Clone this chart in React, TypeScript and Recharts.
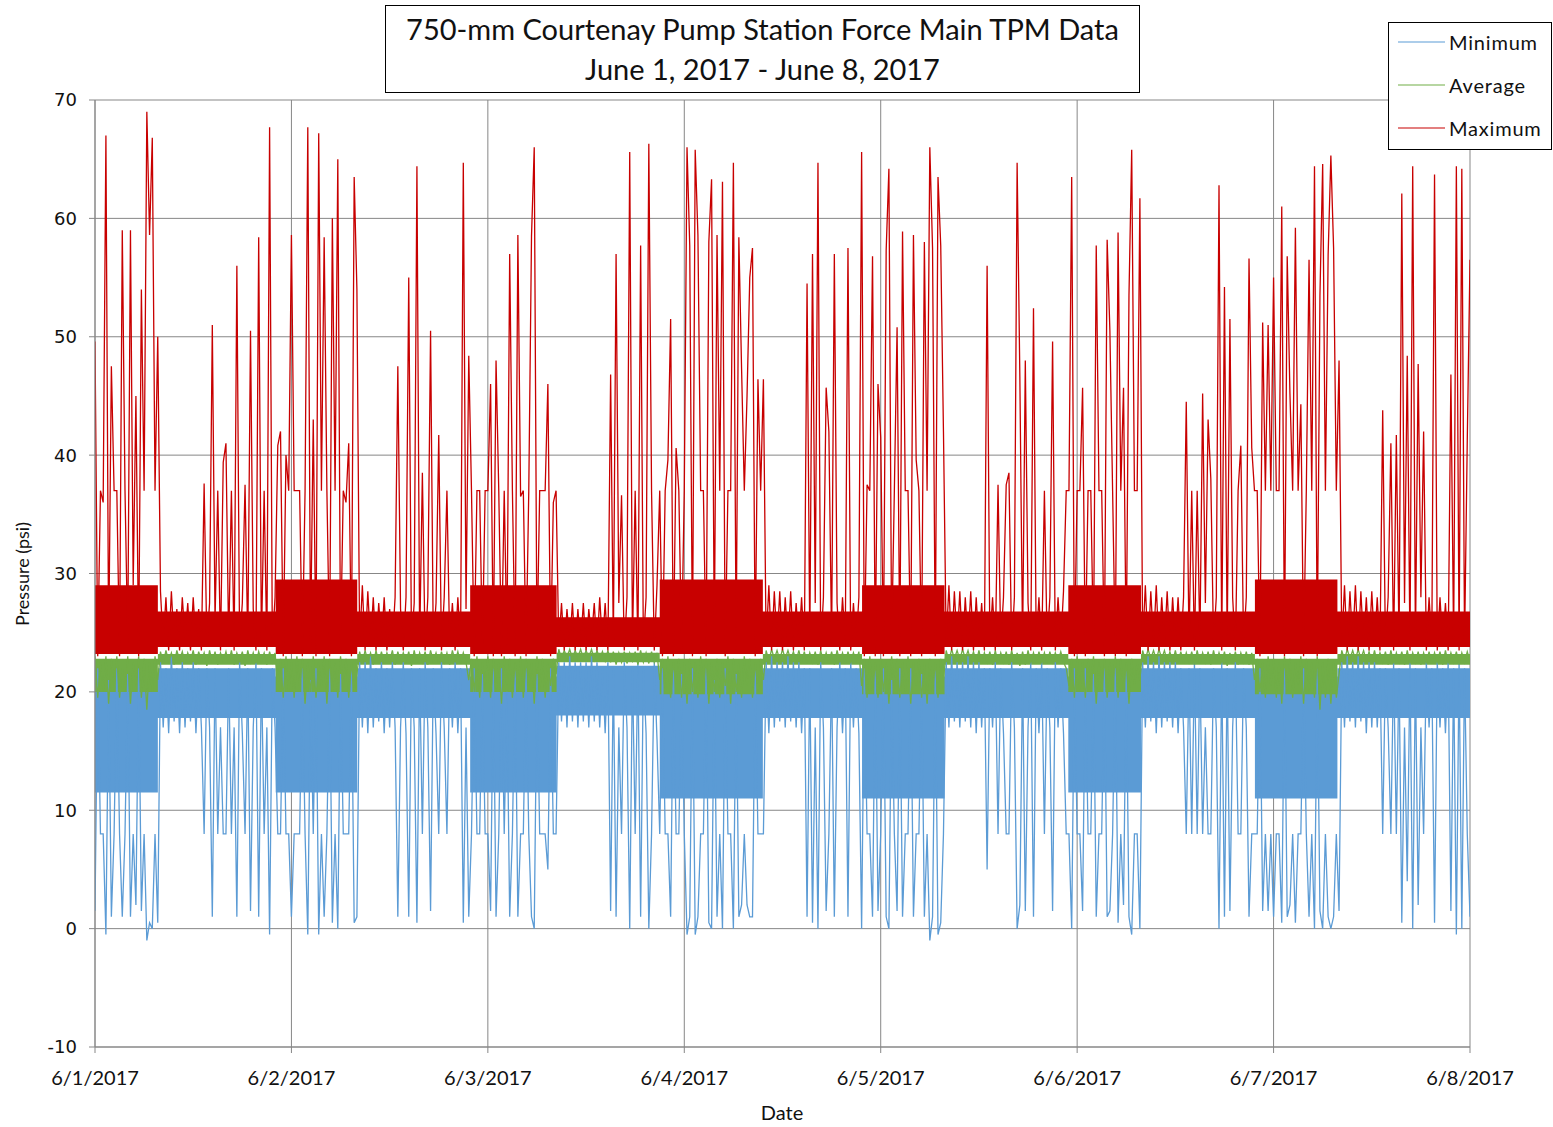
import React from 'react';
import { ComposedChart, Line, Area, XAxis, YAxis, CartesianGrid } from 'recharts';

// Sampling: one reading every 20 minutes (72 per day), June 1 00:00 -> June 8 00:00
const SAMPLES_PER_DAY = 72;
const dayLabels = ['6/1/2017', '6/2/2017', '6/3/2017', '6/4/2017', '6/5/2017', '6/6/2017', '6/7/2017', '6/8/2017'];
const dayTicks = [0, 1, 2, 3, 4, 5, 6, 7];
const yTicks = [-10, 0, 10, 20, 30, 40, 50, 60, 70];

const maximumPsi = [
  49.6, 23, 37, 36, 67, 23.5, 47.5, 37, 37, 23, 59, 37,
  24, 59, 29, 45, 23, 54, 37, 69, 58.6, 66.8, 37, 50,
  28.5, 24, 28, 23.5, 28.5, 24, 27, 23.5, 28, 24.5, 27.5, 23.5,
  28, 24, 27, 23.5, 37.6, 24, 27.5, 51, 26, 37, 23.5, 39.4,
  41, 24, 37, 23.5, 56, 24, 27.5, 37.5, 24, 50.5, 27, 23.5,
  58.4, 24, 37, 23.5, 67.7, 24, 28, 40.8, 42, 23, 40, 37,
  58.6, 37, 37, 37, 23, 37, 67.7, 24, 43, 23, 67.2, 37,
  58.4, 37, 23, 60, 37, 65, 23.5, 37, 36, 41, 23, 63.5,
  54, 24, 29, 23.5, 28.5, 24, 28, 23.5, 27.5, 24, 28, 23.5,
  27, 24, 28, 47.5, 27, 23.5, 28, 55, 24, 27.5, 64.4, 24,
  38.5, 23.5, 28, 50.5, 24, 27.5, 41.7, 23.5, 28, 37, 24, 27.5,
  23.5, 28, 24, 64.7, 27, 48.4, 37, 23, 37, 37, 23.5, 37,
  37, 46, 23, 48, 37, 23, 37, 24, 57, 37, 23, 58.6,
  36.5, 37, 23, 37, 58.5, 66, 23.5, 37, 37, 37, 46, 23,
  36, 37, 24, 27.5, 23.5, 27, 24, 27.5, 23.5, 27, 24, 27.5,
  23.5, 27, 24.5, 27.5, 23.5, 28, 24, 27.5, 23.5, 46.8, 24, 57,
  27.5, 36.6, 23.5, 28, 65.6, 24, 37, 23.5, 57.7, 24, 28, 66.3,
  37, 23.5, 29, 37, 23, 37, 39.6, 51.5, 23, 40.6, 37, 23.5,
  37, 66, 57.7, 23, 65.8, 58.6, 37, 37, 23, 58, 63.3, 24,
  58.6, 37, 63.1, 23, 37, 37, 64.7, 23.5, 58.4, 47.3, 37, 45,
  55, 57.5, 23, 46.4, 37, 46.4, 24, 29, 23.5, 28.5, 24, 28.5,
  23.5, 28, 24, 28.5, 23.5, 27.5, 24, 28, 23.5, 54.5, 24, 57,
  27.5, 64.7, 23.5, 28, 45.7, 42, 24, 57, 27.5, 23.5, 28, 24,
  57.5, 23.5, 27.5, 24, 28, 65.6, 23, 37.5, 37, 56.8, 23, 46,
  41.5, 23, 57.3, 64.2, 24, 37, 50.8, 23, 58.9, 37, 37, 23,
  58.6, 39.6, 37, 23, 58, 37, 66, 57.5, 23, 63.5, 57.7, 42,
  24, 29, 23.5, 28.5, 24, 28.5, 23.5, 28, 24, 28.5, 23.5, 28,
  24, 27.5, 23.5, 56, 24, 28, 23.5, 37.5, 24, 28, 37.5, 38.5,
  23.5, 28, 64.7, 46.6, 24, 48, 27.5, 23.5, 52.4, 24, 28, 23.5,
  37, 24, 28, 49.6, 23.5, 28, 24, 28.5, 37, 37, 63.5, 23,
  37, 37, 45.7, 23, 37, 37, 23.5, 57.7, 37, 37, 23, 58.2,
  50.5, 37, 23, 58.8, 37, 45.7, 23, 53.5, 65.8, 37, 37, 61.7,
  24, 29, 23.5, 28.5, 24, 29, 23.5, 28, 24, 28.5, 23.5, 28,
  24, 28, 23.5, 28, 44.5, 24, 37, 23.5, 37, 24, 45.2, 27.5,
  43, 38, 24, 28, 62.8, 23.5, 54.2, 24, 51.5, 28, 23.5, 37,
  40.8, 24, 28, 56.6, 40.6, 37, 37, 23, 51.2, 37, 51, 37,
  55, 37, 37, 61, 23, 56.8, 45.2, 37, 59.2, 37, 44.3, 23,
  37, 56.5, 37, 64.4, 23, 53.5, 64.6, 37, 56.9, 65.3, 57.5, 37,
  48, 24, 29, 23.5, 28.5, 24, 29, 23.5, 28.5, 24, 28, 23.5,
  28.5, 24, 28, 23.5, 43.8, 24, 28, 41, 23.5, 41.7, 24, 62.1,
  27.5, 48.4, 23.5, 64.4, 24, 47.7, 28, 42, 23.5, 28, 24, 63.7,
  23.5, 28, 24, 27.5, 23.5, 46.8, 24, 64.4, 23.5, 64.2, 24, 41.3, 56.5,
];

const minimumPsi = [
  1.5, 22, 8, 8, -0.5, 21, 1, 8, 22, 8, 1, 8,
  21.5, 1, 8, 2, 22, 1.5, 8, -1, 0.5, 0, 8, 0.5,
  22.5, 17, 22, 16.5, 23, 17.5, 22, 16.5, 22.5, 17, 22, 17.5,
  22.5, 16.5, 22, 17, 8, 22, 17, 1, 22, 8, 17, 8,
  8, 22, 8, 17, 1, 22.5, 16.5, 8, 22, 1.5, 17, 22.5,
  1, 22, 8, 17, -0.5, 22, 17, 8, 8, 22, 8, 8,
  1, 8, 8, 8, 22, 8, -0.5, 21, 8, 22, -0.5, 8,
  1, 8, 22, 0.5, 8, 0, 21.5, 8, 8, 8, 22, 0.5,
  1, 22.5, 17, 22.5, 16.5, 23, 17, 22, 17.5, 22.5, 16.5, 22,
  17, 22.5, 17, 1, 17, 22.5, 16.5, 1, 22, 17, 0.5, 22,
  8, 22.5, 17, 1.5, 22, 16.5, 8, 22.5, 17, 8, 22, 17,
  22.5, 16.5, 22, 0.5, 17, 1, 8, 22, 8, 8, 21.5, 8,
  8, 1.5, 22, 1, 8, 22, 8, 20, 1, 8, 22, 1,
  8, 8, 22, 8, 1, 0, 21.5, 8, 8, 8, 5, 22,
  8, 8, 22.5, 17.5, 22.5, 17, 23, 17.5, 22.5, 17, 22.5, 17.5,
  22.5, 17, 23, 17.5, 22.5, 17, 22, 16.5, 22.5, 1.5, 22, 1,
  17, 8, 22.5, 17, 0, 22, 8, 22.5, 1, 22, 16.5, 0,
  8, 22.5, 16, 8, 22, 8, 8, 1, 22, 8, 8, 21.5,
  8, -0.5, 1, 22, -0.5, 1, 8, 8, 22, 0.5, 0, 21,
  1, 8, 0, 22, 8, 8, 0, 21.5, 1, 2, 8, 2,
  1, 1, 22, 8, 8, 8, 22.5, 16.5, 23, 17, 22.5, 17.5,
  22.5, 17, 23, 17.5, 22.5, 17, 22.5, 16.5, 22, 1, 22, 0.5,
  17, 0, 22.5, 17, 1.5, 8, 22, 1, 17, 22.5, 16.5, 22,
  1, 22.5, 17, 22, 16.5, 0, 22, 8, 8, 1, 22, 1.5,
  8, 22, 1, 0, 21, 8, 1.5, 22, 1, 8, 8, 22,
  1, 8, 8, 21.5, 1, 8, -1, 1, 22, -0.5, 0.5, 8,
  22.5, 17, 23, 17.5, 22.5, 17, 22.5, 17.5, 23, 17, 22.5, 16.5,
  22.5, 17, 22, 5, 22, 17, 22.5, 8, 22, 16.5, 8, 8,
  22.5, 17, 0, 2, 22, 1.5, 17, 22.5, 1, 22, 16.5, 22.5,
  8, 22, 17, 1.5, 22.5, 17, 22, 16.5, 8, 8, 0, 22,
  8, 8, 1.5, 22, 8, 8, 21.5, 1, 8, 8, 22, 1,
  1.5, 8, 22, 0.5, 8, 2, 22, 1, -0.5, 8, 8, 0,
  22.5, 17, 23, 17.5, 22.5, 16.5, 23, 17, 22.5, 17.5, 22.5, 17,
  22.5, 16.5, 22, 17, 8, 22, 8, 22.5, 8, 22, 8, 17,
  8, 8, 22, 17, 0, 22.5, 1, 22, 1.5, 17, 22.5, 8,
  8, 22, 17, 1, 8, 8, 8, 22, 1.5, 8, 1.5, 8,
  1, 8, 8, 0.5, 22, 1, 2, 8, 0.5, 8, 8, 22,
  8, 1, 8, 0, 22, 1.5, 0, 8, 1, 0, 1, 8,
  1.5, 22.5, 17, 23, 17.5, 22.5, 17, 23, 17.5, 22.5, 16.5, 22.5,
  17, 22.5, 17, 22, 8, 22, 17, 8, 22.5, 8, 22, 0.5,
  17, 4, 22.5, 0, 22, 2, 17, 8, 22.5, 17, 22, 0.5,
  22.5, 17, 22, 16.5, 22.5, 1.5, 22, -0.5, 22.5, 0, 22, 8, 1,
];

const averagePsi = [
  23, 19.5, 22.5, 20, 23, 19, 22.8, 20.5, 23, 19.5, 22, 20,
  23, 19, 22.5, 20.5, 23, 19.5, 22.8, 18.5, 22.5, 20, 23, 21,
  23.4, 22.4, 23.5, 22.6, 23.3, 22.3, 23.5, 22.7, 23.4, 22.4, 23.3, 22.6,
  23.5, 22.3, 23.4, 22.6, 23.3, 22.2, 23.5, 22.5, 23.4, 22.3, 23.3, 22.6,
  23.4, 22.4, 23.5, 22.3, 23.3, 22.6, 23.4, 22.2, 23.5, 22.5, 23.3, 22.4,
  23.4, 22.6, 23.3, 22.3, 23.4, 22.5, 23.3, 20.5, 22.8, 19.5, 23, 20,
  22.5, 19.5, 23, 20.5, 22.8, 19, 22.5, 20, 23, 19.5, 22.5, 20.5,
  23, 19, 22.8, 20, 22.5, 19.5, 23, 20.5, 22.8, 19.5, 22.5, 20,
  21.5, 23.4, 22.4, 23.5, 22.6, 23.3, 22.3, 23.5, 22.5, 23.4, 22.4, 23.3,
  22.6, 23.5, 22.3, 23.4, 22.5, 23.3, 22.6, 23.4, 22.2, 23.5, 22.4, 23.3,
  22.5, 23.4, 22.3, 23.5, 22.6, 23.3, 22.4, 23.4, 22.5, 23.3, 22.3, 23.5,
  22.6, 23.4, 22.4, 23.3, 22.5, 21, 22.8, 20, 23, 19.5, 22.5, 20.5,
  23, 19.5, 22.8, 20, 22.5, 19, 23, 20.5, 22.8, 19.5, 22.5, 20,
  23, 19.5, 22.8, 20.5, 22.5, 19, 23, 20, 22.8, 19.5, 22.5, 20.5,
  22.8, 21.5, 23.6, 22.8, 23.5, 22.9, 23.6, 22.8, 23.5, 22.9, 23.6, 22.8,
  23.5, 22.9, 23.6, 22.7, 23.5, 22.8, 23.4, 22.6, 23.5, 22.5, 23.4, 22.3,
  23.3, 22.5, 23.4, 22.4, 23.3, 22.6, 23.4, 22.3, 23.5, 22.5, 23.3, 22.4,
  23.4, 22.5, 23.3, 21, 22.8, 20, 23, 19.5, 22.5, 20.5, 22.8, 19.5,
  22.5, 19, 22.8, 20, 22.5, 19.5, 23, 20.5, 22.8, 19, 22.5, 20,
  22.8, 19.5, 22.5, 20.5, 23, 19, 22.8, 20, 22.5, 19.5, 23, 20.5,
  22.8, 19.5, 22.5, 20, 22.8, 21, 23.5, 22.6, 23.6, 22.8, 23.5, 22.7,
  23.6, 22.8, 23.5, 22.7, 23.4, 22.6, 23.5, 22.5, 23.4, 22.4, 23.3, 22.5,
  23.4, 22.3, 23.5, 22.5, 23.3, 22.4, 23.4, 22.3, 23.5, 22.6, 23.3, 22.4,
  23.4, 22.5, 23.3, 22.6, 23.4, 20.5, 22.8, 19.5, 23, 20, 22.5, 19.5,
  22.8, 20, 22.5, 19, 23, 20.5, 22.8, 19.5, 22.5, 20, 23, 19,
  22.5, 20.5, 22.8, 19.5, 22.5, 19, 22.8, 20, 22.5, 19.5, 22.8, 21,
  23.5, 22.6, 23.6, 22.8, 23.5, 22.7, 23.6, 22.8, 23.5, 22.6, 23.4, 22.5,
  23.5, 22.4, 23.3, 22.5, 23.4, 22.3, 23.5, 22.4, 23.3, 22.5, 23.4, 22.3,
  23.5, 22.4, 23.3, 22.2, 23.4, 22.3, 23.5, 22.5, 23.3, 22.4, 23.4, 22.5,
  23.3, 22.4, 23.4, 22.5, 23.3, 22.6, 23.4, 22.5, 22, 20.5, 22.8, 19.5,
  23, 20, 22.5, 19.5, 22.8, 20.5, 23, 19, 22.5, 20, 22.8, 19.5,
  22.5, 20.5, 23, 19.5, 22.8, 20, 22.5, 19, 22.8, 20.5, 22.5, 21,
  23.5, 22.7, 23.6, 22.8, 23.5, 22.7, 23.6, 22.8, 23.5, 22.6, 23.4, 22.5,
  23.5, 22.5, 23.4, 22.4, 23.3, 22.5, 23.4, 22.3, 23.5, 22.4, 23.3, 22.5,
  23.4, 22.3, 23.5, 22.4, 23.3, 22.5, 23.4, 22.2, 23.3, 22.4, 23.4, 22.3,
  23.3, 22.5, 23.4, 22.3, 23.3, 21, 22.8, 20, 22.5, 19.5, 23, 20.5,
  22.8, 19.5, 22.5, 19, 23, 20, 22.8, 19.5, 22.5, 20.5, 23, 19,
  22.8, 20, 22.5, 19.5, 23, 18.5, 22.5, 19.5, 22.8, 19, 22.5, 19.5,
  21.5, 23.5, 22.7, 23.6, 22.8, 23.5, 22.7, 23.6, 22.8, 23.5, 22.6, 23.4,
  22.5, 23.5, 22.4, 23.3, 22.5, 23.4, 22.3, 23.5, 22.4, 23.3, 22.5, 23.4,
  22.3, 23.5, 22.4, 23.3, 22.5, 23.4, 22.3, 23.3, 22.5, 23.4, 22.4, 23.3,
  22.5, 23.4, 22.3, 23.5, 22.4, 23.3, 22.5, 23.4, 22.3, 23.3, 22.5, 23.4, 22.6,
];

// Solid core of the dense readings (where the logger's samples fill the band),
// one entry per pumping phase (active / quiet alternating).
const phaseStartDay = [0, 0.32, 0.92, 1.335, 1.91, 2.35, 2.875, 3.4, 3.905, 4.325, 4.955, 5.325, 5.905, 6.325];
const phaseEndDay = [0.32, 0.92, 1.335, 1.91, 2.35, 2.875, 3.4, 3.905, 4.325, 4.955, 5.325, 5.905, 6.325, 7];
const maxCoreLow = [23.2, 23.8, 23.2, 23.8, 23.2, 23.8, 23.2, 23.8, 23.2, 23.8, 23.2, 23.8, 23.2, 23.8];
const maxCoreHigh = [29, 26.8, 29.5, 26.8, 29, 26.3, 29.5, 26.8, 29, 26.8, 29, 26.8, 29.5, 26.8];
const avgCoreLow = [20, 22.3, 20, 22.3, 20, 22.5, 19.8, 22.3, 19.8, 22.3, 20, 22.3, 19.8, 22.3];
const avgCoreHigh = [22.8, 23.2, 22.8, 23.2, 22.8, 23.3, 22.8, 23.2, 22.8, 23.2, 22.8, 23.2, 22.8, 23.2];
const minCoreLow = [11.5, 17.8, 11.5, 17.8, 11.5, 18, 11, 17.8, 11, 17.8, 11.5, 17.8, 11, 17.8];
const minCoreHigh = [21.3, 22, 21.3, 22, 21.3, 22.2, 21.3, 22, 21.3, 22, 21.3, 22, 21.3, 22];

const data = maximumPsi.map((mx, i) => ({
  day: i / SAMPLES_PER_DAY,
  minimum: minimumPsi[i],
  average: averagePsi[i],
  maximum: mx,
}));

const coreData = phaseStartDay.flatMap((start, k) => {
  const row = {
    maxCore: [maxCoreLow[k], maxCoreHigh[k]],
    avgCore: [avgCoreLow[k], avgCoreHigh[k]],
    minCore: [minCoreLow[k], minCoreHigh[k]],
  };
  return [{ day: start, ...row }, { day: phaseEndDay[k], ...row }];
});

const COLORS = { minimum: '#5B9BD5', average: '#70AD47', maximum: '#C80000' };
const GRID = '#878787';
const LABEL_FONT = 'Lato, "Open Sans", sans-serif';

const legendItems = [
  { name: 'Minimum', color: COLORS.minimum },
  { name: 'Average', color: COLORS.average },
  { name: 'Maximum', color: COLORS.maximum },
];

export default function App() {
  return (
    <div style={{ position: 'absolute', left: 0, top: 0, width: 1553, height: 1127, background: '#fff', fontFamily: LABEL_FONT }}>
      <ComposedChart
        width={1553}
        height={1127}
        data={data}
        margin={{ top: 100, right: 83, bottom: 40, left: 35 }}
      >
        <CartesianGrid stroke={GRID} strokeWidth={1} />
        <XAxis
          dataKey="day"
          type="number"
          domain={[0, 7]}
          ticks={dayTicks}
          interval={0}
          height={40}
          allowDataOverflow
          tickFormatter={(v: number) => dayLabels[v]}
          stroke={GRID}
          tickSize={6}
          tickMargin={18}
          tick={{ fill: '#111', fontSize: 20, fontFamily: LABEL_FONT }}
        />
        <YAxis
          type="number"
          domain={[-10, 70]}
          ticks={yTicks}
          interval={0}
          width={60}
          allowDataOverflow
          stroke={GRID}
          tickSize={6}
          tickMargin={12}
          tick={{ fill: '#111', fontSize: 18, fontFamily: '"DejaVu Sans", Verdana, sans-serif' }}
        />
        <Area data={coreData} type="linear" dataKey="minCore" stroke="none" fill={COLORS.minimum} fillOpacity={1} isAnimationActive={false} legendType="none" />
        <Line type="linear" dataKey="minimum" name="Minimum" stroke={COLORS.minimum} strokeWidth={1.3} dot={false} isAnimationActive={false} />
        <Area data={coreData} type="linear" dataKey="avgCore" stroke="none" fill={COLORS.average} fillOpacity={1} isAnimationActive={false} legendType="none" />
        <Line type="linear" dataKey="average" name="Average" stroke={COLORS.average} strokeWidth={1.3} dot={false} isAnimationActive={false} />
        <Area data={coreData} type="linear" dataKey="maxCore" stroke="none" fill={COLORS.maximum} fillOpacity={1} isAnimationActive={false} legendType="none" />
        <Line type="linear" dataKey="maximum" name="Maximum" stroke={COLORS.maximum} strokeWidth={1.3} dot={false} isAnimationActive={false} />
      </ComposedChart>

      {/* Title box */}
      <div
        style={{
          position: 'absolute', left: 385, top: 5, width: 753, height: 83,
          border: '1px solid #000', background: '#fff', textAlign: 'center',
          fontSize: 29, lineHeight: '40px', paddingTop: 3, color: '#111',
        }}
      >
        <div>750-mm Courtenay Pump Station Force Main TPM Data</div>
        <div>June 1, 2017 - June 8, 2017</div>
      </div>

      {/* Legend box */}
      <div
        style={{
          position: 'absolute', left: 1388, top: 22, width: 162, height: 126,
          border: '1px solid #000', background: '#fff',
        }}
      >
        {legendItems.map((it, k) => (
          <div key={it.name} style={{ position: 'absolute', left: 0, top: 4 + k * 43, height: 30, display: 'flex', alignItems: 'center' }}>
            <svg width={60} height={30} style={{ display: 'block' }}>
              <line x1={9} y1={15} x2={56} y2={15} stroke={it.color} strokeWidth={1.2} />
            </svg>
            <span style={{ fontSize: 20, letterSpacing: 0.8, color: '#111' }}>{it.name}</span>
          </div>
        ))}
      </div>

      {/* Axis titles */}
      <div style={{ position: 'absolute', left: 782, top: 1100, fontSize: 20, color: '#111', transform: 'translateX(-50%)' }}>
        Date
      </div>
      <div
        style={{
          position: 'absolute', left: 22, top: 574, fontSize: 18, color: '#111', whiteSpace: 'nowrap',
          transform: 'translate(-50%, -50%) rotate(-90deg)',
        }}
      >
        Pressure (psi)
      </div>
    </div>
  );
}
